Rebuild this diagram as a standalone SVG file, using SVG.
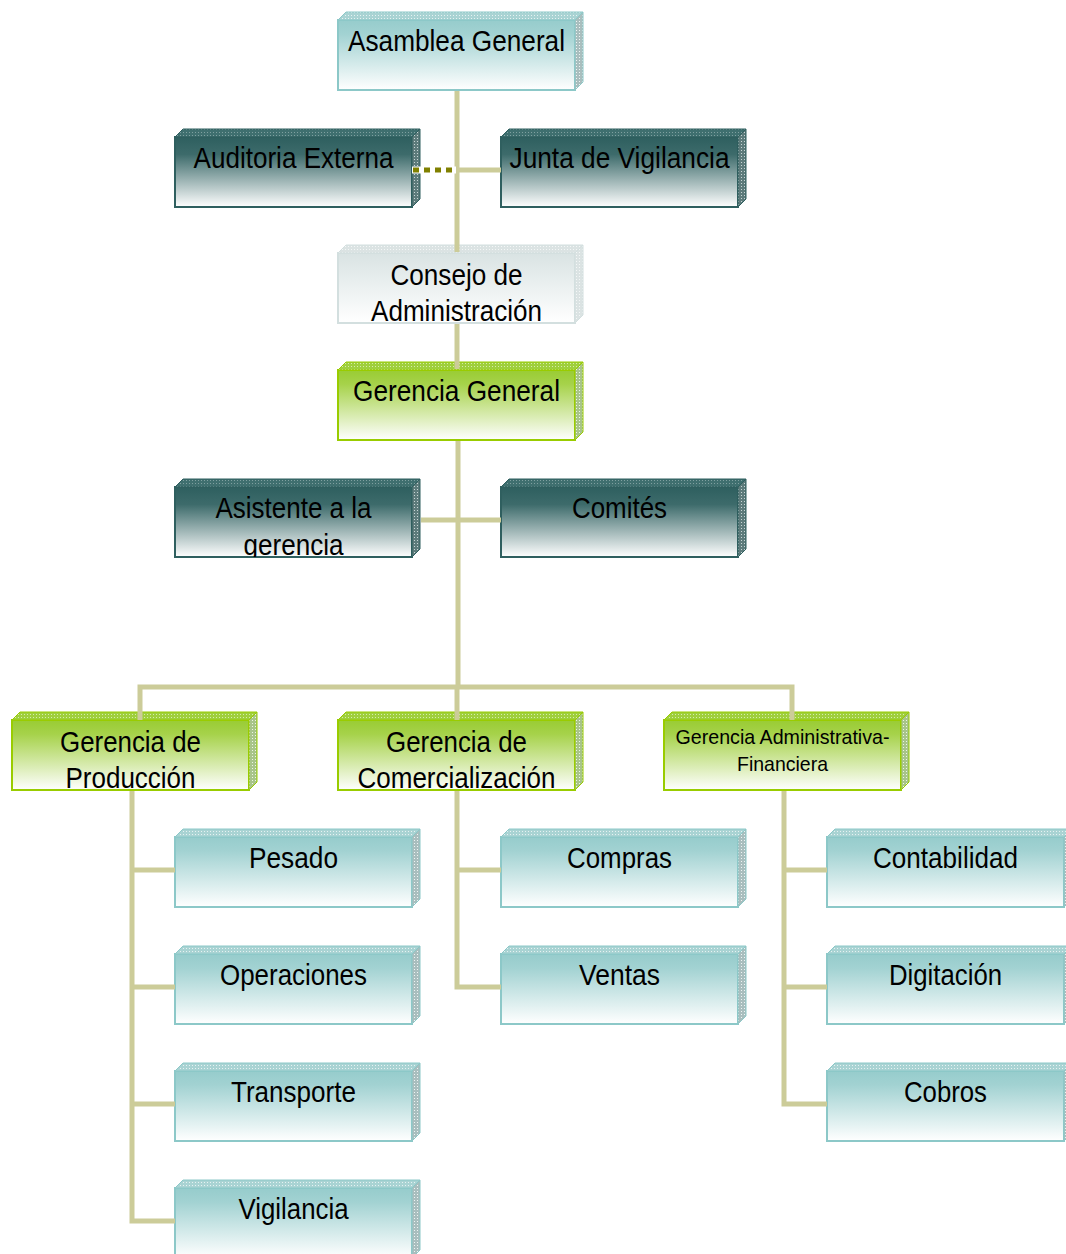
<svg xmlns="http://www.w3.org/2000/svg" width="1066" height="1254" viewBox="0 0 1066 1254">
<defs>
<linearGradient id="gTeal" x1="0" y1="0" x2="0" y2="1">
<stop offset="0" stop-color="#96cccc"/><stop offset="0.2" stop-color="#a2d2d2"/><stop offset="1" stop-color="#ffffff"/>
</linearGradient>
<linearGradient id="gDark" x1="0" y1="0" x2="0" y2="1">
<stop offset="0" stop-color="#2e5f5f"/><stop offset="0.25" stop-color="#3d6b6b"/><stop offset="1" stop-color="#ffffff"/>
</linearGradient>
<linearGradient id="gGray" x1="0" y1="0" x2="0" y2="1">
<stop offset="0" stop-color="#d9e3e3"/><stop offset="1" stop-color="#ffffff"/>
</linearGradient>
<linearGradient id="gGreen" x1="0" y1="0" x2="0" y2="1">
<stop offset="0" stop-color="#99cc33"/><stop offset="0.2" stop-color="#a6d24a"/><stop offset="1" stop-color="#ffffff"/>
</linearGradient>
<pattern id="pTeal" width="3" height="3" patternUnits="userSpaceOnUse"><rect width="3" height="3" fill="#a9d3d3"/><rect width="1" height="1" fill="#e6f2f2"/></pattern>
<pattern id="pTealS" width="3" height="3" patternUnits="userSpaceOnUse"><rect width="3" height="3" fill="#a9bebe"/><rect width="1" height="1" fill="#eef4f4"/></pattern>
<pattern id="pDark" width="3" height="3" patternUnits="userSpaceOnUse"><rect width="3" height="3" fill="#3f6f6f"/><rect width="1" height="1" fill="#7fa0a0"/></pattern>
<pattern id="pDarkS" width="3" height="3" patternUnits="userSpaceOnUse"><rect width="3" height="3" fill="#5d7b7b"/><rect width="1" height="1" fill="#c8d6d6"/></pattern>
<pattern id="pGray" width="3" height="3" patternUnits="userSpaceOnUse"><rect width="3" height="3" fill="#dbe3e3"/><rect width="1" height="1" fill="#f4f7f7"/></pattern>
<pattern id="pGreen" width="3" height="3" patternUnits="userSpaceOnUse"><rect width="3" height="3" fill="#9fcf3c"/><rect width="1" height="1" fill="#d6ecaa"/></pattern>
<pattern id="pGreenS" width="3" height="3" patternUnits="userSpaceOnUse"><rect width="3" height="3" fill="#a8c48a"/><rect width="1" height="1" fill="#eef5e4"/></pattern>
<clipPath id="clipAsis"><rect x="175" y="479" width="246" height="78"/></clipPath>
</defs>
<style>
.teal .f{fill:url(#gTeal);stroke:#8cc8c8;stroke-width:2}
.teal .t{fill:url(#pTeal);stroke:#8cc8c8;stroke-width:1}
.teal .s{fill:url(#pTealS);stroke:#8cc8c8;stroke-width:1}
.dark .f{fill:url(#gDark);stroke:#2f5f5f;stroke-width:2}
.dark .t{fill:url(#pDark);stroke:#2f5f5f;stroke-width:1}
.dark .s{fill:url(#pDarkS);stroke:#2f5f5f;stroke-width:1}
.gray .f{fill:url(#gGray);stroke:#d3dfdf;stroke-width:2}
.gray .t{fill:url(#pGray);stroke:#d3dfdf;stroke-width:1}
.gray .s{fill:url(#pGray);stroke:#d3dfdf;stroke-width:1}
.green .f{fill:url(#gGreen);stroke:#99cc00;stroke-width:2}
.green .t{fill:url(#pGreen);stroke:#99cc00;stroke-width:1}
.green .s{fill:url(#pGreenS);stroke:#99cc00;stroke-width:1}
text{font-family:"Liberation Sans Narrow","Liberation Sans",Arial,sans-serif;font-size:30px;fill:#000;text-anchor:middle}
text.sm{font-size:21px}
.c{fill:none;stroke:#cccc99;stroke-width:5;stroke-linejoin:miter}
.dot{fill:none;stroke:#808000;stroke-width:5;stroke-dasharray:6 5}
</style>
<g id="asamblea" class="teal">
<rect class="f" x="338" y="20" width="237" height="70"/>
<polygon class="t" points="338,20 346,12 583,12 575,20"/>
<polygon class="s" points="575,20 583,12 583,82 575,90"/>
<text x="456.5" y="51" textLength="217" lengthAdjust="spacingAndGlyphs">Asamblea General</text>
</g>
<g id="auditoria" class="dark">
<rect class="f" x="175" y="137" width="237" height="70"/>
<polygon class="t" points="175,137 183,129 420,129 412,137"/>
<polygon class="s" points="412,137 420,129 420,199 412,207"/>
<text x="293.5" y="168" textLength="200" lengthAdjust="spacingAndGlyphs">Auditoria Externa</text>
</g>
<g id="junta" class="dark">
<rect class="f" x="501" y="137" width="237" height="70"/>
<polygon class="t" points="501,137 509,129 746,129 738,137"/>
<polygon class="s" points="738,137 746,129 746,199 738,207"/>
<text x="619.5" y="168" textLength="220" lengthAdjust="spacingAndGlyphs">Junta de Vigilancia</text>
</g>
<g id="consejo" class="gray">
<rect class="f" x="338" y="253" width="237" height="70"/>
<polygon class="t" points="338,253 346,245 583,245 575,253"/>
<polygon class="s" points="575,253 583,245 583,315 575,323"/>
<text x="456.5" y="285" textLength="132" lengthAdjust="spacingAndGlyphs">Consejo de</text>
<text x="456.5" y="321" textLength="171" lengthAdjust="spacingAndGlyphs">Administración</text>
</g>
<g id="gerencia-general" class="green">
<rect class="f" x="338" y="370" width="237" height="70"/>
<polygon class="t" points="338,370 346,362 583,362 575,370"/>
<polygon class="s" points="575,370 583,362 583,432 575,440"/>
<text x="456.5" y="401" textLength="207" lengthAdjust="spacingAndGlyphs">Gerencia General</text>
</g>
<g id="asistente" class="dark">
<rect class="f" x="175" y="487" width="237" height="70"/>
<polygon class="t" points="175,487 183,479 420,479 412,487"/>
<polygon class="s" points="412,487 420,479 420,549 412,557"/>
<g clip-path="url(#clipAsis)">
<text x="293.5" y="518" textLength="156" lengthAdjust="spacingAndGlyphs">Asistente a la</text>
<text x="293.5" y="555" textLength="100" lengthAdjust="spacingAndGlyphs">gerencia</text>
</g>
</g>
<g id="comites" class="dark">
<rect class="f" x="501" y="487" width="237" height="70"/>
<polygon class="t" points="501,487 509,479 746,479 738,487"/>
<polygon class="s" points="738,487 746,479 746,549 738,557"/>
<text x="619.5" y="518" textLength="95" lengthAdjust="spacingAndGlyphs">Comités</text>
</g>
<g id="gerencia-produccion" class="green">
<rect class="f" x="12" y="720" width="237" height="70"/>
<polygon class="t" points="12,720 20,712 257,712 249,720"/>
<polygon class="s" points="249,720 257,712 257,782 249,790"/>
<text x="130.5" y="752" textLength="141" lengthAdjust="spacingAndGlyphs">Gerencia de</text>
<text x="130.5" y="788" textLength="130" lengthAdjust="spacingAndGlyphs">Producción</text>
</g>
<g id="gerencia-comercializacion" class="green">
<rect class="f" x="338" y="720" width="237" height="70"/>
<polygon class="t" points="338,720 346,712 583,712 575,720"/>
<polygon class="s" points="575,720 583,712 583,782 575,790"/>
<text x="456.5" y="752" textLength="141" lengthAdjust="spacingAndGlyphs">Gerencia de</text>
<text x="456.5" y="788" textLength="198" lengthAdjust="spacingAndGlyphs">Comercialización</text>
</g>
<g id="gerencia-administrativa" class="green">
<rect class="f" x="664" y="720" width="237" height="70"/>
<polygon class="t" points="664,720 672,712 909,712 901,720"/>
<polygon class="s" points="901,720 909,712 909,782 901,790"/>
<text class="sm" x="782.5" y="744" textLength="214" lengthAdjust="spacingAndGlyphs">Gerencia Administrativa-</text>
<text class="sm" x="782.5" y="771" textLength="91" lengthAdjust="spacingAndGlyphs">Financiera</text>
</g>
<g id="pesado" class="teal">
<rect class="f" x="175" y="837" width="237" height="70"/>
<polygon class="t" points="175,837 183,829 420,829 412,837"/>
<polygon class="s" points="412,837 420,829 420,899 412,907"/>
<text x="293.5" y="868" textLength="89" lengthAdjust="spacingAndGlyphs">Pesado</text>
</g>
<g id="operaciones" class="teal">
<rect class="f" x="175" y="954" width="237" height="70"/>
<polygon class="t" points="175,954 183,946 420,946 412,954"/>
<polygon class="s" points="412,954 420,946 420,1016 412,1024"/>
<text x="293.5" y="985" textLength="147" lengthAdjust="spacingAndGlyphs">Operaciones</text>
</g>
<g id="transporte" class="teal">
<rect class="f" x="175" y="1071" width="237" height="70"/>
<polygon class="t" points="175,1071 183,1063 420,1063 412,1071"/>
<polygon class="s" points="412,1071 420,1063 420,1133 412,1141"/>
<text x="293.5" y="1102" textLength="125" lengthAdjust="spacingAndGlyphs">Transporte</text>
</g>
<g id="vigilancia" class="teal">
<rect class="f" x="175" y="1188" width="237" height="70"/>
<polygon class="t" points="175,1188 183,1180 420,1180 412,1188"/>
<polygon class="s" points="412,1188 420,1180 420,1250 412,1258"/>
<text x="293.5" y="1219" textLength="110" lengthAdjust="spacingAndGlyphs">Vigilancia</text>
</g>
<g id="compras" class="teal">
<rect class="f" x="501" y="837" width="237" height="70"/>
<polygon class="t" points="501,837 509,829 746,829 738,837"/>
<polygon class="s" points="738,837 746,829 746,899 738,907"/>
<text x="619.5" y="868" textLength="105" lengthAdjust="spacingAndGlyphs">Compras</text>
</g>
<g id="ventas" class="teal">
<rect class="f" x="501" y="954" width="237" height="70"/>
<polygon class="t" points="501,954 509,946 746,946 738,954"/>
<polygon class="s" points="738,954 746,946 746,1016 738,1024"/>
<text x="619.5" y="985" textLength="81" lengthAdjust="spacingAndGlyphs">Ventas</text>
</g>
<g id="contabilidad" class="teal">
<rect class="f" x="827" y="837" width="237" height="70"/>
<polygon class="t" points="827,837 835,829 1072,829 1064,837"/>
<polygon class="s" points="1064,837 1072,829 1072,899 1064,907"/>
<text x="945.5" y="868" textLength="145" lengthAdjust="spacingAndGlyphs">Contabilidad</text>
</g>
<g id="digitacion" class="teal">
<rect class="f" x="827" y="954" width="237" height="70"/>
<polygon class="t" points="827,954 835,946 1072,946 1064,954"/>
<polygon class="s" points="1064,954 1072,946 1072,1016 1064,1024"/>
<text x="945.5" y="985" textLength="113" lengthAdjust="spacingAndGlyphs">Digitación</text>
</g>
<g id="cobros" class="teal">
<rect class="f" x="827" y="1071" width="237" height="70"/>
<polygon class="t" points="827,1071 835,1063 1072,1063 1064,1071"/>
<polygon class="s" points="1064,1071 1072,1063 1072,1133 1064,1141"/>
<text x="945.5" y="1102" textLength="83" lengthAdjust="spacingAndGlyphs">Cobros</text>
</g>
<g id="connectors">
<path class="c" d="M457,91 V252"/>
<path class="c" d="M457,324 V369"/>
<path class="c" d="M457,170 H501"/>
<path d="M412,170 H456" stroke="#ffffff" stroke-width="7" fill="none"/>
<path class="dot" d="M413,170 H456"/>
<path class="c" d="M458,441 V687"/>
<path class="c" d="M421,520 H501"/>
<path class="c" d="M140,720 V687 H792 V720"/>
<path class="c" d="M457,687 V720"/>
<path class="c" d="M132,791 V1221 H175"/>
<path class="c" d="M132,870 H175 M132,987 H175 M132,1104 H175"/>
<path class="c" d="M457,791 V987 H501"/>
<path class="c" d="M457,870 H501"/>
<path class="c" d="M784,791 V1104 H827"/>
<path class="c" d="M784,870 H827 M784,987 H827"/>
</g>
</svg>
